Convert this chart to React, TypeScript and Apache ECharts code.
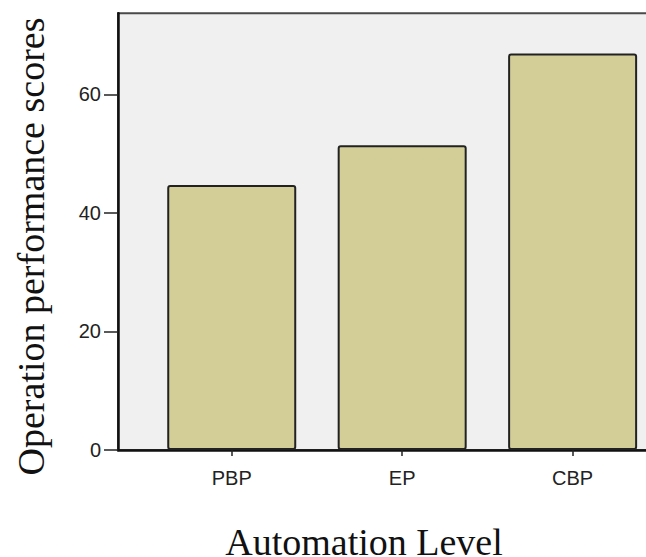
import React, { useEffect, useRef } from "react";
import * as echarts from "echarts";

const categories = ["PBP", "EP", "CBP"];
const scores = [44.7, 51.4, 66.9];
const yTicks = [0, 20, 40, 60];
const yMax = 73.66;
const catPositions = [0, 1, 2];

export default function App() {
  const ref = useRef<HTMLDivElement>(null);
  useEffect(() => {
    if (!ref.current) return;
    const chart = echarts.init(ref.current, undefined, { renderer: "svg" });
    const sans = '"Liberation Sans", Arial, sans-serif';
    const serif = '"Liberation Serif", "Times New Roman", serif';
    chart.setOption({
      animation: false,
      backgroundColor: "#ffffff",
      grid: {
        left: 118,
        top: 13.3,
        right: -34,
        bottom: 107,
        outerBoundsMode: "none",
        containLabel: false,
        show: true,
        backgroundColor: "#f0f0f0",
        borderColor: "#4a4a4a",
        borderWidth: 2,
      },
      xAxis: {
        type: "value",
        min: -0.6673,
        max: 2.63,
        axisLine: { show: true, onZero: false, lineStyle: { color: "#111", width: 2.5 } },
        axisTick: {
          show: true,
          customValues: catPositions,
          length: 6,
          lineStyle: { color: "#222", width: 1.5 },
        },
        axisLabel: {
          show: true,
          customValues: catPositions,
          formatter: (v: number) => categories[Math.round(v)] ?? "",
          margin: 18,
          fontFamily: sans,
          fontSize: 20,
          color: "#222",
        },
        splitLine: { show: false },
      },
      yAxis: {
        type: "value",
        min: 0,
        max: yMax,
        axisLine: { show: true, onZero: false, lineStyle: { color: "#111", width: 2.5 } },
        axisTick: {
          show: true,
          customValues: yTicks,
          length: 14,
          lineStyle: { color: "#222", width: 1.5 },
        },
        axisLabel: {
          show: true,
          customValues: yTicks,
          margin: 17,
          fontFamily: sans,
          fontSize: 20,
          color: "#222",
        },
        splitLine: { show: false },
      },
      series: [
        {
          type: "bar",
          data: catPositions.map((p, i) => [p, scores[i]]),
          barWidth: 129,
          itemStyle: {
            color: "#d3ce97",
            borderColor: "#222",
            borderWidth: 2,
            borderRadius: 2,
          },
        },
      ],
      graphic: [
        {
          type: "text",
          x: 30.5,
          y: 246.5,
          rotation: Math.PI / 2,
          style: {
            text: "Operation performance scores",
            fontFamily: serif,
            fontSize: 38,
            fill: "#111",
            textAlign: "center",
            textVerticalAlign: "middle",
            align: "center",
            verticalAlign: "middle",
          },
        },
        {
          type: "text",
          x: 364,
          y: 542.2,
          style: {
            text: "Automation Level",
            fontFamily: serif,
            fontSize: 38,
            fill: "#111",
            textAlign: "center",
            textVerticalAlign: "middle",
            align: "center",
            verticalAlign: "middle",
          },
        },
      ],
    });
    return () => chart.dispose();
  }, []);
  return (
    <div
      ref={ref}
      style={{ position: "absolute", left: 0, top: 0, width: 646, height: 557 }}
    />
  );
}
